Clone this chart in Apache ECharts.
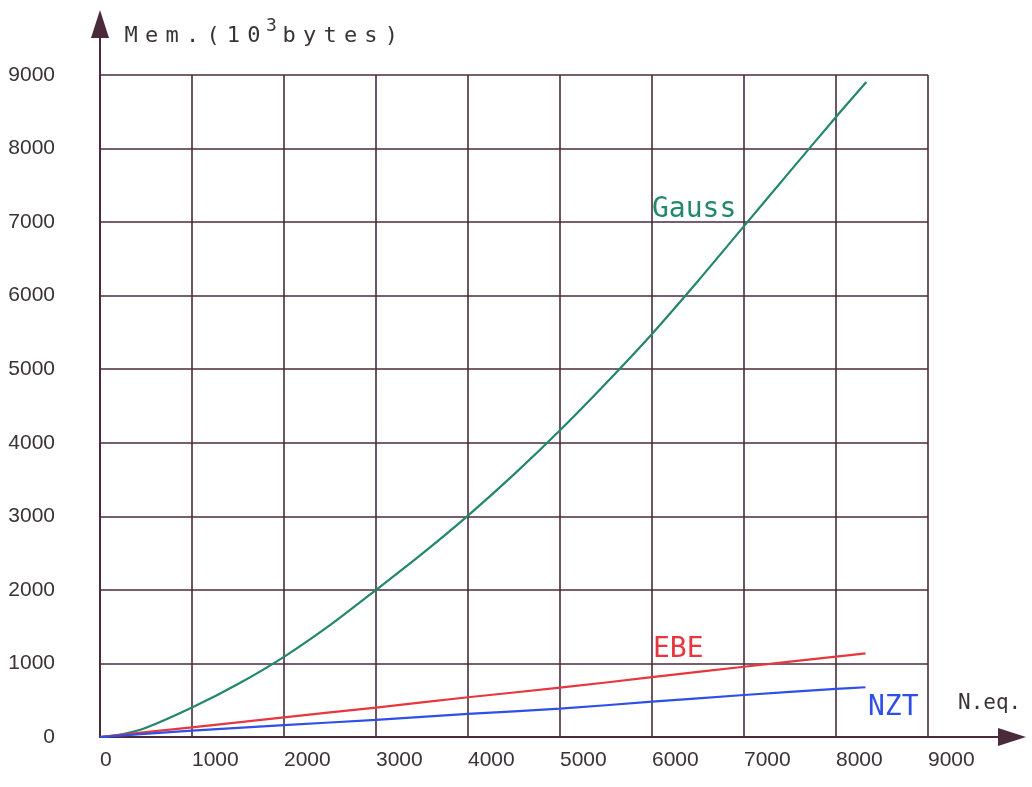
<!DOCTYPE html>
<html>
<head>
<meta charset="utf-8">
<script src="https://cdn.jsdelivr.net/npm/echarts@6/dist/echarts.min.js"></script>
<style>
  html, body { margin: 0; padding: 0; background: #ffffff; }
  #chart { width: 1032px; height: 787px; }
</style>
</head>
<body>
<div id="chart"></div>
<script>
// Memory use (10^3 bytes) against number of equations for three solvers
const nEqGauss = [0, 250, 500, 1000, 1500, 2000, 2500, 3000, 3500, 4000, 4500, 5000, 5500, 6000, 6500, 7000, 7500, 8000, 8330];
const memGauss = [0, 40, 125, 400, 720, 1090, 1520, 2000, 2490, 3010, 3570, 4170, 4810, 5480, 6200, 6945, 7690, 8430, 8905];

const nEqSparse = [0, 1000, 2000, 3000, 4000, 5000, 6000, 7000, 8000, 8320];
const memEBE = [0, 132, 268, 400, 540, 670, 813, 955, 1092, 1138];
const memNZT = [0, 86, 162, 233, 315, 385, 480, 571, 653, 676];

const axisMax = 9000;
const axisStep = 1000;

const INK = '#4a2b3b';
const LABEL = '#3a3237';
const GREEN = '#23876a';
const RED = '#e8363f';
const BLUE = '#2f4fe6';

function pairs(xs, ys) {
  return xs.map((x, i) => [x, ys[i]]);
}

// Spread a string into one rich token per character, for plotter-style letter spacing
function spread(str, key) {
  return Array.from(str).map(c => '{' + key + '|' + c + '}').join('');
}

const plainNumber = v => String(v);

const chart = echarts.init(document.getElementById('chart'), null, { renderer: 'canvas' });

const option = {
  backgroundColor: '#ffffff',
  animation: false,
  grid: { left: 100, right: 104, top: 75, bottom: 50, containLabel: false },
  xAxis: {
    type: 'value',
    min: 0,
    max: axisMax,
    interval: axisStep,
    axisLine: { show: true, lineStyle: { color: INK, width: 2 } },
    axisTick: { show: false },
    axisLabel: {
      formatter: plainNumber,
      align: 'left',
      margin: 13,
      fontSize: 21,
      fontFamily: 'Liberation Sans',
      color: LABEL
    },
    splitLine: { show: true, lineStyle: { color: INK, width: 1.6 } }
  },
  yAxis: {
    type: 'value',
    min: 0,
    max: axisMax,
    interval: axisStep,
    axisLine: { show: true, lineStyle: { color: INK, width: 2 } },
    axisTick: { show: false },
    axisLabel: {
      formatter: plainNumber,
      margin: 45,
      fontSize: 21,
      fontFamily: 'Liberation Sans',
      color: LABEL,
      padding: [0, 0, 14, 0]
    },
    splitLine: { show: true, lineStyle: { color: INK, width: 1.6 } }
  },
  series: [
    {
      name: 'Gauss', type: 'line', data: pairs(nEqGauss, memGauss),
      showSymbol: false, smooth: 0.3, z: 5,
      lineStyle: { color: GREEN, width: 2.2 }
    },
    {
      name: 'EBE', type: 'line', data: pairs(nEqSparse, memEBE),
      showSymbol: false, smooth: 0.2, z: 5,
      lineStyle: { color: RED, width: 2.2 }
    },
    {
      name: 'NZT', type: 'line', data: pairs(nEqSparse, memNZT),
      showSymbol: false, smooth: 0.2, z: 5,
      lineStyle: { color: BLUE, width: 2.2 }
    }
  ]
};

chart.setOption(option);

// Axis extensions with arrow heads, placed from the grid's own coordinates
const origin = chart.convertToPixel({ gridIndex: 0 }, [0, 0]);
const corner = chart.convertToPixel({ gridIndex: 0 }, [axisMax, axisMax]);
const xEnd = 1026, yEnd = 10;

const labelFont = '"DejaVu Sans Mono"';

chart.setOption({
  graphic: [
    {
      type: 'line', z: 10,
      shape: { x1: corner[0], y1: origin[1], x2: xEnd - 20, y2: origin[1] },
      style: { stroke: INK, lineWidth: 2 }
    },
    {
      type: 'polygon', z: 10,
      shape: { points: [[xEnd - 28, origin[1] - 9], [xEnd, origin[1]], [xEnd - 28, origin[1] + 9]] },
      style: { fill: INK }
    },
    {
      type: 'line', z: 10,
      shape: { x1: origin[0], y1: corner[1], x2: origin[0], y2: yEnd + 20 },
      style: { stroke: INK, lineWidth: 2 }
    },
    {
      type: 'polygon', z: 10,
      shape: { points: [[origin[0] - 9, yEnd + 28], [origin[0], yEnd], [origin[0] + 9, yEnd + 28]] },
      style: { fill: INK }
    },
    {
      type: 'text', z: 10, x: 121, y: 9,
      style: {
        text: spread('Mem.(10', 't') + '{sup|3}' + spread('bytes)', 't'),
        rich: {
          t: { fontFamily: labelFont, fontSize: 22, fill: LABEL, padding: [0, 3.6], lineHeight: 38, verticalAlign: 'bottom' },
          sup: { fontFamily: labelFont, fontSize: 18, fill: LABEL, padding: [8, 2, 0, 2], lineHeight: 20, verticalAlign: 'top' }
        }
      }
    },
    {
      type: 'text', z: 10, x: 958, y: 693,
      style: { text: 'N.eq.', font: '21px ' + labelFont, fill: LABEL, verticalAlign: 'top' }
    },
    {
      type: 'text', z: 10, x: 652, y: 196,
      style: { text: 'Gauss', font: '28px ' + labelFont, fill: GREEN, verticalAlign: 'top' }
    },
    {
      type: 'text', z: 10, x: 653, y: 636,
      style: { text: 'EBE', font: '28px ' + labelFont, fill: RED, verticalAlign: 'top' }
    },
    {
      type: 'text', z: 10, x: 868, y: 694,
      style: { text: 'NZT', font: '28px ' + labelFont, fill: BLUE, verticalAlign: 'top' }
    }
  ]
});
</script>
</body>
</html>
